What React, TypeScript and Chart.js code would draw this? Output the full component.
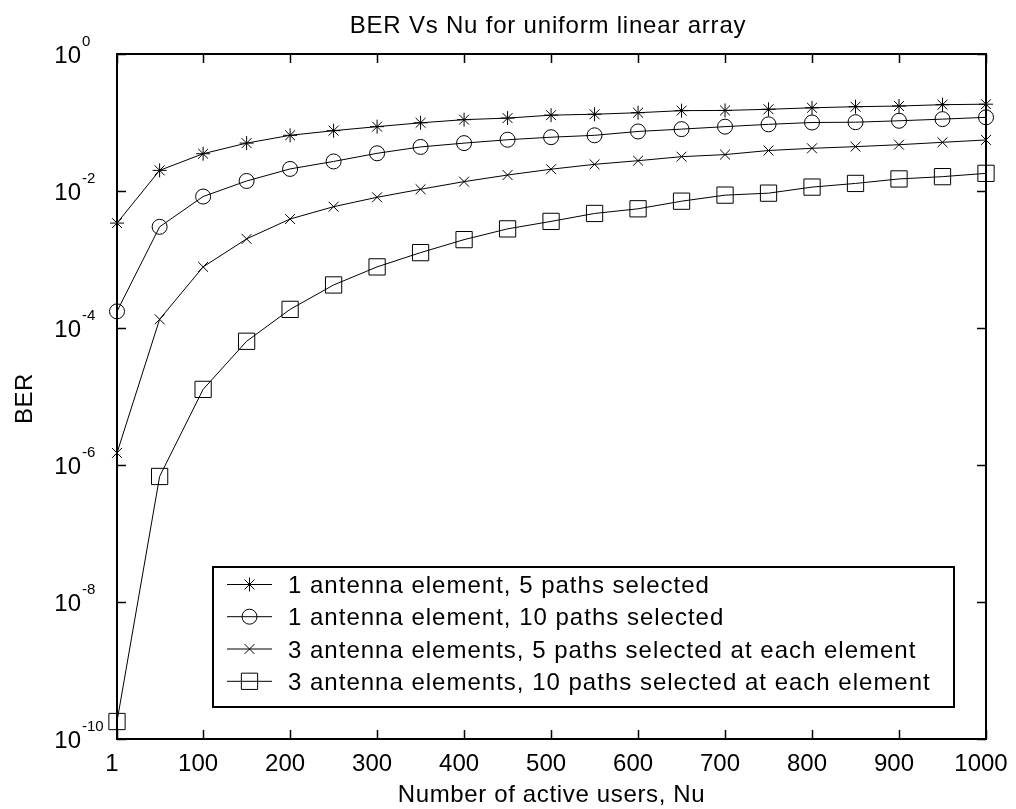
import { useEffect, useRef } from 'react';
import { Chart, registerables } from 'chart.js';
import { drawPoint } from 'chart.js/helpers';

Chart.register(...registerables);

// Number of active users (x values of every curve)
const activeUsers = [1, 50, 100, 150, 200, 250, 300, 350, 400, 450, 500, 550, 600, 650, 700, 750, 800, 850, 900, 950, 1000];

// Bit error rate for each receiver configuration
const berOneElementFivePaths = [3.4e-3, 0.020, 0.035, 0.050, 0.065, 0.076, 0.087, 0.099, 0.110, 0.116, 0.128, 0.132, 0.139, 0.149, 0.150, 0.156, 0.164, 0.170, 0.174, 0.182, 0.185];
const berOneElementTenPaths = [1.75e-4, 3.0e-3, 8.3e-3, 0.014, 0.021, 0.027, 0.0355, 0.044, 0.050, 0.056, 0.061, 0.065, 0.074, 0.080, 0.087, 0.094, 0.100, 0.101, 0.106, 0.112, 0.119];
const berThreeElementsFivePaths = [1.5e-6, 1.34e-4, 7.8e-4, 2.0e-3, 3.9e-3, 5.9e-3, 8.1e-3, 0.0106, 0.0137, 0.0171, 0.0208, 0.0245, 0.0277, 0.0317, 0.034, 0.039, 0.042, 0.0444, 0.0474, 0.0514, 0.0556];
const berThreeElementsTenPaths = [1.8e-10, 6.8e-7, 1.27e-5, 6.4e-5, 1.87e-4, 4.25e-4, 7.8e-4, 1.26e-3, 1.95e-3, 2.8e-3, 3.6e-3, 4.7e-3, 5.5e-3, 7.1e-3, 8.7e-3, 9.3e-3, 0.0114, 0.0129, 0.0150, 0.0162, 0.0181];

const seriesLabels = [
  '1 antenna element, 5 paths selected',
  '1 antenna element, 10 paths selected',
  '3 antenna elements, 5 paths selected at each element',
  '3 antenna elements, 10 paths selected at each element',
];

const xTickValues = [1, 100, 200, 300, 400, 500, 600, 700, 800, 900, 1000];
const yTickExponents = [0, -2, -4, -6, -8, -10];

const chartTitle = 'BER Vs Nu for uniform linear array';
const xAxisTitle = 'Number of active users, Nu';
const yAxisTitle = 'BER';

const FONT = '"Liberation Sans", Arial, Helvetica, sans-serif';
const TICK_LEN = 9;

const markerStyles = [
  { pointStyle: 'star', radius: 7 },
  { pointStyle: 'circle', radius: 7.5 },
  { pointStyle: 'crossRot', radius: 7 },
  { pointStyle: 'rect', radius: 11.5 },
];

const seriesValues = [
  berOneElementFivePaths,
  berOneElementTenPaths,
  berThreeElementsFivePaths,
  berThreeElementsTenPaths,
];

// Axes box, inward ticks, labels and legend in the classic MATLAB figure look
const matlabFigure = {
  id: 'matlabFigure',
  afterDraw(chart: any) {
    const ctx: CanvasRenderingContext2D = chart.ctx;
    const { left, right, top, bottom } = chart.chartArea;
    const xs = chart.scales.x;
    const ys = chart.scales.y;
    ctx.save();
    ctx.strokeStyle = '#000';
    ctx.fillStyle = '#000';

    // frame
    ctx.lineWidth = 2;
    ctx.strokeRect(left, top, right - left, bottom - top);

    // inward ticks on all four sides
    ctx.lineWidth = 1.5;
    ctx.beginPath();
    xTickValues.forEach((v) => {
      const px = Math.round(xs.getPixelForValue(v)) + 0.5;
      ctx.moveTo(px, bottom);
      ctx.lineTo(px, bottom - TICK_LEN);
      ctx.moveTo(px, top);
      ctx.lineTo(px, top + TICK_LEN);
    });
    yTickExponents.forEach((e) => {
      const py = Math.round(ys.getPixelForValue(Math.pow(10, e))) + 0.5;
      ctx.moveTo(left, py);
      ctx.lineTo(left + TICK_LEN, py);
      ctx.moveTo(right, py);
      ctx.lineTo(right - TICK_LEN, py);
    });
    ctx.stroke();

    // x tick labels
    (ctx as any).letterSpacing = '0px';
    ctx.font = `24px ${FONT}`;
    ctx.textAlign = 'center';
    ctx.textBaseline = 'alphabetic';
    xTickValues.forEach((v) => {
      ctx.fillText(String(v), xs.getPixelForValue(v) - 5, bottom + 32);
    });

    // y tick labels as powers of ten
    yTickExponents.forEach((e) => {
      const py = ys.getPixelForValue(Math.pow(10, e));
      ctx.font = `24px ${FONT}`;
      ctx.textAlign = 'right';
      ctx.fillText('10', left - 36, py + 8.6);
      ctx.font = `15px ${FONT}`;
      ctx.textAlign = 'left';
      ctx.fillText(String(e), left - 35, py - 8.5);
    });

    // title and axis titles
    ctx.font = `24px ${FONT}`;
    ctx.textAlign = 'center';
    (ctx as any).letterSpacing = '0.8px';
    ctx.fillText(chartTitle, 548, 33);
    (ctx as any).letterSpacing = '0.65px';
    ctx.fillText(xAxisTitle, (left + right) / 2, 801.5);
    ctx.save();
    ctx.translate(32, 398.5);
    ctx.rotate(-Math.PI / 2);
    (ctx as any).letterSpacing = '0.5px';
    ctx.fillText(yAxisTitle, 0, 0);
    ctx.restore();

    // legend
    const box = { x: 213, y: 567, w: 741, h: 140 };
    const rowY = [584.5, 616.7, 649, 681.3];
    ctx.fillStyle = '#fff';
    ctx.fillRect(box.x, box.y, box.w, box.h);
    ctx.lineWidth = 2;
    ctx.strokeStyle = '#000';
    ctx.strokeRect(box.x, box.y, box.w, box.h);
    seriesLabels.forEach((label, i) => {
      const y = rowY[i];
      ctx.lineWidth = 1;
      ctx.strokeStyle = '#000';
      ctx.beginPath();
      ctx.moveTo(227, y);
      ctx.lineTo(272, y);
      ctx.stroke();
      ctx.fillStyle = 'rgba(0,0,0,0)';
      drawPoint(ctx, { pointStyle: markerStyles[i].pointStyle as any, radius: markerStyles[i].radius, rotation: 0, borderWidth: 1 }, 249.5, y);
      ctx.fillStyle = '#000';
      ctx.font = `24px ${FONT}`;
      ctx.textAlign = 'left';
      (ctx as any).letterSpacing = '1px';
      ctx.fillText(label, 288, y + 8.6);
    });
    (ctx as any).letterSpacing = '0px';
    ctx.restore();
  },
};

export default function App() {
  const canvasRef = useRef<HTMLCanvasElement | null>(null);

  useEffect(() => {
    const canvas = canvasRef.current;
    if (!canvas) return;
    const chart = new Chart(canvas, {
      type: 'line',
      data: {
        datasets: seriesValues.map((values, i) => ({
          label: seriesLabels[i],
          data: activeUsers.map((u, k) => ({ x: u, y: values[k] })),
          borderColor: '#000',
          borderWidth: 1,
          pointStyle: markerStyles[i].pointStyle as any,
          pointRadius: markerStyles[i].radius,
          pointBorderColor: '#000',
          pointBackgroundColor: 'rgba(0,0,0,0)',
          pointBorderWidth: 1,
          tension: 0,
          fill: false,
          clip: false as any,
        })),
      },
      options: {
        animation: false,
        responsive: false,
        devicePixelRatio: 1,
        layout: { padding: { left: 117, top: 54, right: 30, bottom: 70 } },
        plugins: {
          legend: { display: false },
          title: { display: false },
          tooltip: { enabled: false },
        },
        events: [],
        scales: {
          x: { type: 'linear', min: 1, max: 1000, display: false },
          y: { type: 'logarithmic', min: 1e-10, max: 1, display: false },
        },
      },
      plugins: [matlabFigure],
    });
    return () => chart.destroy();
  }, []);

  return (
    <div style={{ position: 'fixed', left: 0, top: 0, width: 1016, height: 809, background: '#fff' }}>
      <canvas ref={canvasRef} width={1016} height={809} style={{ display: 'block' }} />
    </div>
  );
}
